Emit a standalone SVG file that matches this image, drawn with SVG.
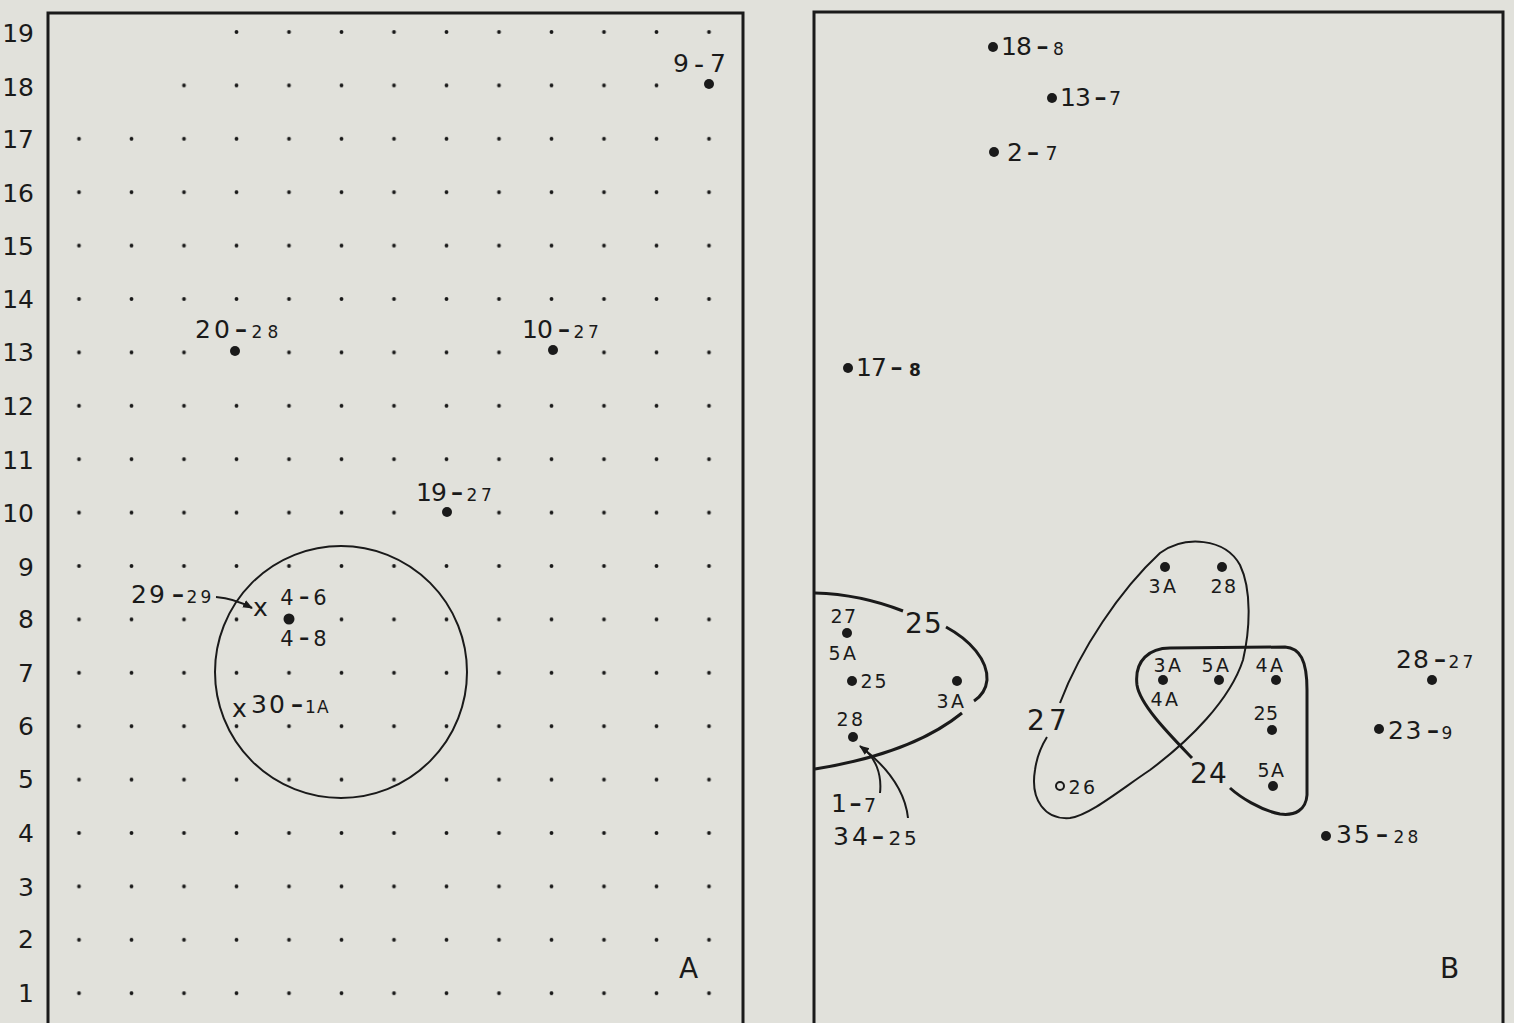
<svg xmlns="http://www.w3.org/2000/svg" width="1514" height="1023" viewBox="0 0 1514 1023">
<defs>
<style>
text{font-family:"DejaVu Sans","Liberation Sans",Arial,sans-serif;fill:#1a1a1a}
.ax{font-size:25px;text-anchor:end}
.b{font-size:25px}
.s{font-size:17px}
.m{font-size:21px}
.d{font-size:36px}
.dm{font-size:30px}
.sl{font-size:19px}
.big{font-size:28px}
.frame{fill:none;stroke:#1a1a1a;stroke-width:3}
.ln{fill:none;stroke:#1a1a1a;stroke-width:2}
.lnb{fill:none;stroke:#1a1a1a;stroke-width:3}
.pt{fill:#1a1a1a}
</style>
<pattern id="grid" x="52.75" y="5.3" width="52.5" height="53.4" patternUnits="userSpaceOnUse">
<circle cx="26.25" cy="26.7" r="1.9" fill="#1a1a1a"/>
</pattern>
<marker id="ah" viewBox="0 0 10 10" refX="9" refY="5" markerWidth="10" markerHeight="10" orient="auto" markerUnits="userSpaceOnUse">
<path d="M0,1 L10,5 L0,9 z" fill="#1a1a1a"/>
</marker>
</defs>
<rect width="1514" height="1023" fill="#e1e1db"/>

<g id="axis">
<text class="ax" x="34" y="42">19</text>
<text class="ax" x="34" y="96">18</text>
<text class="ax" x="34" y="148">17</text>
<text class="ax" x="34" y="202">16</text>
<text class="ax" x="34" y="255">15</text>
<text class="ax" x="34" y="308">14</text>
<text class="ax" x="34" y="361">13</text>
<text class="ax" x="34" y="415">12</text>
<text class="ax" x="34" y="469">11</text>
<text class="ax" x="34" y="522">10</text>
<text class="ax" x="34" y="576">9</text>
<text class="ax" x="34" y="628">8</text>
<text class="ax" x="34" y="682">7</text>
<text class="ax" x="34" y="735">6</text>
<text class="ax" x="34" y="788">5</text>
<text class="ax" x="34" y="842">4</text>
<text class="ax" x="34" y="896">3</text>
<text class="ax" x="34" y="948">2</text>
<text class="ax" x="34" y="1002">1</text>
</g>

<g id="panelA">
<path class="frame" d="M48,1030 L48,13 L743,13 L743,1030"/>
<rect x="53" y="112" width="682.5" height="907.8" fill="url(#grid)"/>
<rect x="157.75" y="58.7" width="577.5" height="53.4" fill="url(#grid)"/>
<rect x="210.25" y="5.3" width="525" height="53.4" fill="url(#grid)"/>
<circle class="ln" cx="341" cy="672" r="126"/>
</g>

<g id="nodesA">
<g id="n9-7"><circle class="pt" cx="709" cy="84" r="5"/><text><tspan class="b" x="673" y="72">9</tspan><tspan style="font-size:28px" x="694" y="74">-</tspan><tspan class="b" x="710" y="72">7</tspan></text></g>
<g id="n20-28"><circle class="pt" cx="235" cy="351" r="5"/><text><tspan class="b" x="195 214" y="338">20</tspan><tspan class="d" x="234.4" y="339.5">-</tspan><tspan class="s" x="251.5 267.5" y="338">28</tspan></text></g>
<g id="n10-27"><circle class="pt" cx="553" cy="350" r="5"/><text><tspan class="b" x="522 537" y="338">10</tspan><tspan class="d" x="557.4" y="339.5">-</tspan><tspan class="s" x="573.5 588" y="338">27</tspan></text></g>
<g id="n19-27"><circle class="pt" cx="447" cy="512" r="5"/><text><tspan class="b" x="416 431" y="501">19</tspan><tspan class="d" x="450.4" y="502.5">-</tspan><tspan class="s" x="466.5 481" y="501">27</tspan></text></g>
<g id="n29-29"><text><tspan class="b" x="131 149" y="603">29</tspan><tspan class="d" x="171.4" y="604.5">-</tspan><tspan class="s" x="186.5 200.5" y="603">29</tspan></text><text class="b" x="253" y="616">x</text></g>
<g id="n4-6"><text><tspan class="m" x="280.3" y="605">4</tspan><tspan class="dm" x="298.7" y="606">-</tspan><tspan class="m" x="313.3" y="605">6</tspan></text></g>
<g id="n4-8"><circle class="pt" cx="289" cy="619" r="5.5"/><text><tspan class="m" x="280.3" y="646">4</tspan><tspan class="dm" x="298.7" y="647">-</tspan><tspan class="m" x="313.3" y="646">8</tspan></text></g>
<g id="n30-1A"><text class="b" x="232" y="717">x</text><text><tspan class="b" x="251 269" y="713">30</tspan><tspan class="d" x="290.4" y="714.5">-</tspan><tspan class="s" x="305 317" y="713">1A</tspan></text></g>
<text class="big" x="679" y="978">A</text>
</g>

<g id="connectorsA">
<path class="ln" d="M216,597 C229,598 241,602 252,608" marker-end="url(#ah)"/>
</g>

<g id="panelB">
<path class="frame" d="M814,1030 L814,12 L1503,12 L1503,1030"/>
<text class="big" x="1440" y="978">B</text>
</g>

<g id="nodesB">
<g id="n18-8"><circle class="pt" cx="993" cy="47" r="5"/><text><tspan class="b" x="1001 1016" y="55">18</tspan><tspan class="d" x="1036" y="56.5">-</tspan><tspan class="s" x="1053" y="55">8</tspan></text></g>
<g id="n13-7"><circle class="pt" cx="1052" cy="98" r="5"/><text><tspan class="b" x="1060 1075" y="106">13</tspan><tspan class="d" x="1094" y="107.5">-</tspan><tspan style="font-size:19px" x="1109" y="105">7</tspan></text></g>
<g id="n2-7"><circle class="pt" cx="994" cy="152" r="5"/><text><tspan class="b" x="1007" y="161">2</tspan><tspan class="d" x="1026.4" y="162.5">-</tspan><tspan style="font-size:19px" x="1045.5" y="160">7</tspan></text></g>
<g id="n17-8"><circle class="pt" cx="848" cy="368" r="5"/><text><tspan class="b" x="856 871" y="376">17</tspan><tspan class="d" x="890" y="377.5">-</tspan><tspan class="s" style="font-weight:bold" x="909" y="376">8</tspan></text></g>

<g id="c25">
<text class="sl" x="830.5 844" y="623">27</text>
<circle class="pt" cx="847" cy="633" r="5"/>
<text class="sl" x="828.5 843" y="660">5A</text>
<circle class="pt" cx="852" cy="681" r="5"/>
<text class="sl" x="860.5 874.5" y="688">25</text>
<circle class="pt" cx="957" cy="681" r="5"/>
<text class="sl" x="936.5 951" y="708">3A</text>
<text class="sl" x="836.5 851" y="726">28</text>
<circle class="pt" cx="853" cy="737" r="5"/>
<text class="big" x="905 924" y="633">25</text>
</g>
<g id="n1-7"><text><tspan class="b" x="831" y="812">1</tspan><tspan class="d" x="849" y="813.5">-</tspan><tspan style="font-size:19px" x="864" y="812">7</tspan></text></g>
<g id="n34-25"><text><tspan class="b" x="833 852" y="845">34</tspan><tspan class="d" x="871.4" y="846.5">-</tspan><tspan style="font-size:20px" x="888.5 904" y="845">25</tspan></text></g>

<g id="c27">
<circle class="pt" cx="1165" cy="567" r="5"/>
<text class="sl" x="1148.5 1163" y="593">3A</text>
<circle class="pt" cx="1222" cy="567" r="5"/>
<text class="sl" x="1210.5 1224" y="593">28</text>
<text class="big" x="1027 1049" y="730">27</text>
<circle cx="1060" cy="786" r="4" fill="none" stroke="#1a1a1a" stroke-width="2"/>
<text style="font-size:19px" x="1068.5 1083" y="794">26</text>
</g>
<g id="c24">
<text class="sl" x="1153.5 1168" y="672">3A</text>
<circle class="pt" cx="1163" cy="680" r="5"/>
<text class="sl" x="1150.5 1165" y="706">4A</text>
<text class="sl" x="1201.5 1216" y="672">5A</text>
<circle class="pt" cx="1219" cy="680" r="5"/>
<text class="sl" x="1255.5 1270" y="672">4A</text>
<circle class="pt" cx="1276" cy="680" r="5"/>
<text class="sl" x="1253.5 1266" y="720">25</text>
<circle class="pt" cx="1272" cy="730" r="5"/>
<text class="sl" x="1257.5 1271" y="777">5A</text>
<circle class="pt" cx="1273" cy="786" r="5"/>
<text class="big" x="1190 1209" y="783">24</text>
</g>

<g id="n28-27"><circle class="pt" cx="1432" cy="680" r="5"/><text><tspan class="b" x="1396 1413" y="668">28</tspan><tspan class="d" x="1433.4" y="669.5">-</tspan><tspan class="s" x="1448.5 1462.5" y="668">27</tspan></text></g>
<g id="n23-9"><circle class="pt" cx="1379" cy="729" r="5"/><text><tspan class="b" x="1388 1405.5" y="739">23</tspan><tspan class="d" x="1426.4" y="740.5">-</tspan><tspan class="s" x="1441.5" y="739">9</tspan></text></g>
<g id="n35-28"><circle class="pt" cx="1326" cy="836" r="5"/><text><tspan class="b" x="1336 1354" y="843">35</tspan><tspan class="d" x="1375.4" y="844.5">-</tspan><tspan class="s" x="1393.5 1407.5" y="843">28</tspan></text></g>
</g>

<g id="connectorsB">
<path class="lnb" d="M815,593 C850,594 880,602 903,611"/>
<path class="lnb" d="M946,627 C970,640 988,660 987,680 C986,690 980,697 974,701"/>
<path class="lnb" d="M962,713 C935,735 890,757 815,769"/>
<path class="ln" d="M1060,703 C1080,650 1120,590 1160,553 C1185,535 1225,538 1240,565 C1252,590 1250,630 1243,660 C1230,700 1190,740 1150,770 C1120,790 1090,815 1070,818 C1045,820 1030,800 1035,770 C1037,755 1042,745 1047,737"/>
<path class="lnb" d="M1192,758 C1170,735 1140,705 1137,685 C1134,660 1150,648 1170,648 L1285,647 C1300,648 1307,660 1307,690 L1307,795 C1306,810 1295,816 1280,814 C1260,810 1240,797 1230,788"/>
<path class="ln" d="M880,793 C882,775 876,757 861,747"/>
<path class="ln" d="M908,818 C905,790 885,765 860,746" marker-end="url(#ah)"/>
</g>
</svg>
